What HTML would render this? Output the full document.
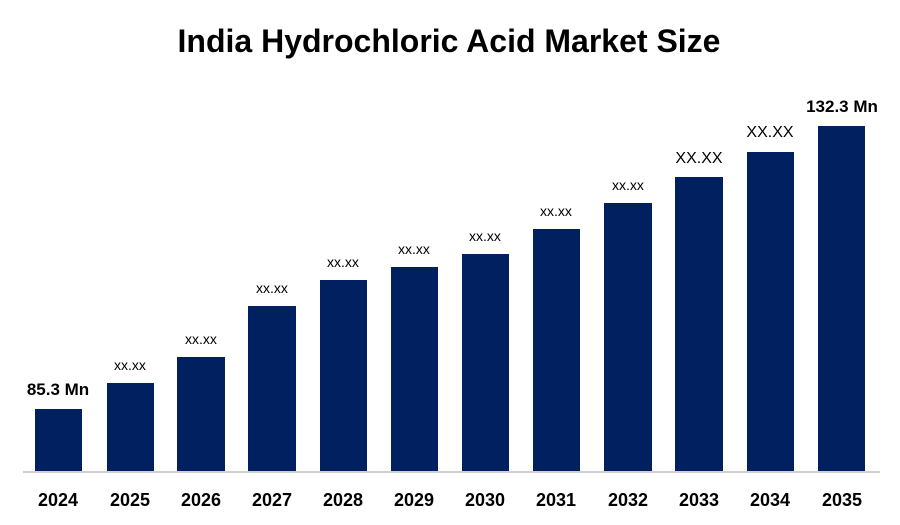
<!DOCTYPE html>
<html><head><style>
body{margin:0;background:#fff;}
svg{display:block;font-family:"Liberation Sans",sans-serif;}
</style></head><body>
<svg width="900" height="525" viewBox="0 0 900 525">
<text x="449" y="52" text-anchor="middle" font-size="32" font-weight="bold" fill="#000">India Hydrochloric Acid Market Size</text>
<line x1="23" y1="472" x2="880" y2="472" stroke="#d0d0d0" stroke-width="2"/>
<g fill="#00205f">
<rect x="35" y="409" width="47" height="62"/>
<rect x="107" y="383" width="47" height="88"/>
<rect x="177" y="357" width="48" height="114"/>
<rect x="248" y="306" width="48" height="165"/>
<rect x="320" y="280" width="47" height="191"/>
<rect x="391" y="267" width="47" height="204"/>
<rect x="462" y="254" width="47" height="217"/>
<rect x="533" y="229" width="47" height="242"/>
<rect x="604" y="203" width="48" height="268"/>
<rect x="675" y="177" width="48" height="294"/>
<rect x="747" y="152" width="47" height="319"/>
<rect x="818" y="126" width="47" height="345"/>
</g>
<g font-size="14" text-anchor="middle" fill="#000">
<text x="130" y="370">xx.xx</text>
<text x="201" y="344">xx.xx</text>
<text x="272" y="293">xx.xx</text>
<text x="343" y="267">xx.xx</text>
<text x="414" y="254">xx.xx</text>
<text x="485" y="241">xx.xx</text>
<text x="556" y="216">xx.xx</text>
<text x="628" y="190">xx.xx</text>
</g>
<g font-size="16" text-anchor="middle" fill="#000">
<text x="699" y="163">XX.XX</text>
<text x="770" y="137">XX.XX</text>
</g>
<g font-size="17" font-weight="bold" text-anchor="middle" fill="#000">
<text x="58" y="395">85.3 Mn</text>
<text x="842" y="112">132.3 Mn</text>
</g>
<g font-size="18" font-weight="bold" text-anchor="middle" fill="#000">
<text x="58" y="506">2024</text>
<text x="130" y="506">2025</text>
<text x="201" y="506">2026</text>
<text x="272" y="506">2027</text>
<text x="343" y="506">2028</text>
<text x="414" y="506">2029</text>
<text x="485" y="506">2030</text>
<text x="556" y="506">2031</text>
<text x="628" y="506">2032</text>
<text x="699" y="506">2033</text>
<text x="770" y="506">2034</text>
<text x="842" y="506">2035</text>
</g>
</svg>
</body></html>
